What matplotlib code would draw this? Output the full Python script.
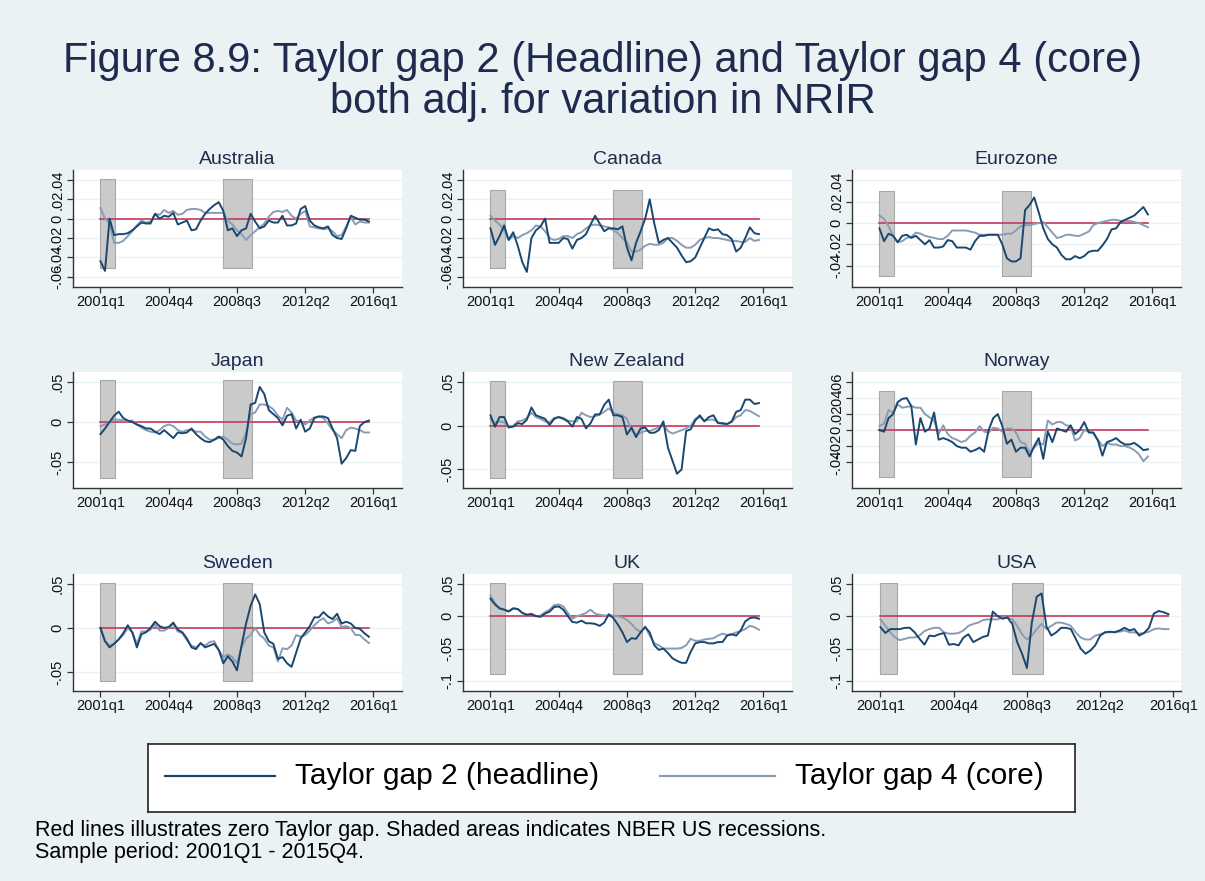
import numpy as np
import matplotlib
matplotlib.use("Agg")
import matplotlib.pyplot as plt

plt.rcParams['font.family'] = ['Liberation Sans', 'DejaVu Sans']

# quarterly index, 0 = 2001q1 ... 59 = 2015q4
quarters = np.arange(60)
xtick_pos = [0, 15, 30, 45, 60]
xtick_labels = ["2001q1", "2004q4", "2008q3", "2012q2", "2016q1"]

# NBER US recessions (in quarter units)
recessions = [(0, 3.3), (27, 33.3)]

aus_head = [-0.044, -0.054, 0.000, -0.017, -0.016, -0.016, -0.015, -0.012, -0.008, -0.004,
            -0.005, -0.005, 0.005, 0.000, 0.003, 0.002, 0.006, -0.006, -0.004, -0.002,
            -0.012, -0.011, -0.002, 0.005, 0.010, 0.014, 0.017, 0.008, -0.012, -0.010,
            -0.018, -0.012, -0.010, 0.005, -0.003, -0.010, -0.008, -0.002, -0.004, -0.004,
            0.003, -0.007, -0.007, -0.005, 0.010, 0.013, -0.002, -0.007, -0.009, -0.010,
            -0.008, -0.017, -0.020, -0.021, -0.010, 0.003, 0.001, -0.001, -0.001, -0.003]
aus_core = [0.011, 0.000, -0.005, -0.025, -0.025, -0.023, -0.018, -0.013, -0.007, -0.002,
            -0.004, -0.003, 0.005, 0.004, 0.009, 0.006, 0.008, 0.004, 0.005, 0.009,
            0.010, 0.010, 0.009, 0.006, 0.006, 0.006, 0.006, 0.006, -0.002, -0.006,
            -0.012, -0.016, -0.022, -0.017, -0.013, -0.009, -0.005, 0.002, 0.007, 0.008,
            0.007, 0.009, 0.003, 0.000, 0.005, 0.008, -0.008, -0.009, -0.010, -0.011,
            -0.010, -0.013, -0.018, -0.017, -0.008, 0.002, -0.006, -0.003, -0.004, -0.004]

can_head = [-0.010, -0.027, -0.018, -0.007, -0.022, -0.014, -0.028, -0.045, -0.055, -0.020,
            -0.012, -0.008, 0.000, -0.025, -0.025, -0.025, -0.020, -0.021, -0.031, -0.022,
            -0.020, -0.016, -0.006, 0.003, -0.005, -0.013, -0.010, -0.010, -0.011, -0.008,
            -0.030, -0.043, -0.025, -0.013, 0.000, 0.020, -0.005, -0.025, -0.022, -0.020,
            -0.025, -0.030, -0.038, -0.045, -0.044, -0.040, -0.030, -0.020, -0.010, -0.012,
            -0.011, -0.016, -0.017, -0.021, -0.034, -0.030, -0.020, -0.009, -0.015, -0.016]
can_core = [0.003, -0.002, -0.006, -0.012, -0.022, -0.018, -0.020, -0.017, -0.015, -0.012,
            -0.007, -0.008, -0.013, -0.020, -0.022, -0.021, -0.018, -0.018, -0.020, -0.016,
            -0.014, -0.010, -0.007, -0.006, -0.007, -0.008, -0.009, -0.012, -0.015, -0.020,
            -0.025, -0.034, -0.034, -0.032, -0.028, -0.026, -0.027, -0.027, -0.025, -0.020,
            -0.020, -0.023, -0.027, -0.030, -0.030, -0.027, -0.022, -0.020, -0.019, -0.020,
            -0.020, -0.021, -0.022, -0.023, -0.023, -0.024, -0.024, -0.020, -0.023, -0.022]

eur_head = [-0.005, -0.017, -0.010, -0.012, -0.018, -0.012, -0.011, -0.014, -0.012, -0.016,
            -0.020, -0.016, -0.023, -0.023, -0.022, -0.016, -0.017, -0.023, -0.023, -0.023,
            -0.025, -0.017, -0.012, -0.012, -0.011, -0.011, -0.011, -0.020, -0.033, -0.036,
            -0.036, -0.033, 0.012, 0.017, 0.024, 0.010, -0.005, -0.015, -0.020, -0.023,
            -0.030, -0.034, -0.034, -0.031, -0.033, -0.031, -0.027, -0.026, -0.026, -0.021,
            -0.015, -0.006, -0.005, 0.001, 0.003, 0.005, 0.007, 0.011, 0.015, 0.008]
eur_core = [0.007, 0.004, -0.003, -0.012, -0.018, -0.017, -0.014, -0.013, -0.009, -0.010,
            -0.012, -0.013, -0.014, -0.015, -0.015, -0.012, -0.007, -0.007, -0.007, -0.007,
            -0.008, -0.009, -0.011, -0.011, -0.011, -0.011, -0.011, -0.011, -0.010, -0.010,
            -0.007, -0.003, -0.002, -0.002, -0.001, 0.000, 0.001, -0.004, -0.009, -0.014,
            -0.013, -0.011, -0.011, -0.012, -0.012, -0.010, -0.008, -0.002, 0.000, 0.001,
            0.002, 0.003, 0.003, 0.002, 0.002, 0.002, 0.001, 0.000, -0.002, -0.004]

jpn_head = [-0.015, -0.008, 0.000, 0.008, 0.013, 0.005, 0.002, 0.000, -0.003, -0.005,
            -0.008, -0.008, -0.012, -0.015, -0.010, -0.015, -0.020, -0.013, -0.014, -0.013,
            -0.008, -0.015, -0.020, -0.024, -0.025, -0.022, -0.018, -0.022, -0.030, -0.036,
            -0.038, -0.043, -0.020, 0.022, 0.024, 0.044, 0.035, 0.015, 0.010, 0.005,
            -0.004, 0.008, 0.010, -0.008, 0.003, -0.012, -0.008, 0.005, 0.007, 0.007,
            0.005, -0.008, -0.020, -0.052, -0.045, -0.035, -0.036, -0.005, 0.000, 0.002]
jpn_core = [-0.005, -0.003, 0.000, 0.003, 0.003, 0.002, 0.001, 0.002, -0.003, -0.007,
            -0.010, -0.012, -0.013, -0.010, -0.005, -0.003, -0.005, -0.010, -0.012, -0.010,
            -0.010, -0.012, -0.012, -0.018, -0.022, -0.022, -0.020, -0.018, -0.022, -0.027,
            -0.028, -0.027, -0.013, 0.010, 0.012, 0.022, 0.022, 0.020, 0.016, 0.008,
            0.003, 0.018, 0.012, 0.002, 0.001, -0.003, 0.002, 0.006, 0.007, 0.005,
            -0.002, -0.010, -0.015, -0.020, -0.010, -0.007, -0.008, -0.010, -0.013, -0.013]

nzl_head = [0.012, -0.001, 0.010, 0.010, -0.002, -0.001, 0.003, 0.002, 0.007, 0.021,
            0.012, 0.010, 0.008, 0.001, 0.008, 0.010, 0.008, 0.005, -0.001, 0.010,
            0.008, -0.003, 0.003, 0.013, 0.013, 0.024, 0.030, 0.012, 0.012, 0.010,
            -0.010, -0.002, -0.013, -0.003, -0.002, -0.008, -0.008, -0.005, 0.005, -0.025,
            -0.040, -0.055, -0.050, -0.006, -0.004, 0.006, 0.012, 0.005, 0.010, 0.012,
            0.003, 0.003, 0.002, 0.005, 0.016, 0.018, 0.030, 0.030, 0.025, 0.026]
nzl_core = [0.008, 0.003, 0.005, 0.004, -0.001, 0.000, 0.005, 0.006, 0.009, 0.015,
            0.010, 0.008, 0.005, 0.004, 0.009, 0.010, 0.009, 0.006, 0.005, 0.005,
            0.015, 0.012, 0.010, 0.011, 0.013, 0.016, 0.020, 0.015, 0.013, 0.012,
            0.008, -0.005, -0.010, -0.008, -0.006, -0.006, -0.004, -0.002, 0.002, -0.006,
            -0.009, -0.007, -0.005, -0.003, 0.000, 0.008, 0.010, 0.006, 0.007, 0.007,
            0.004, 0.002, 0.002, 0.004, 0.010, 0.012, 0.018, 0.017, 0.014, 0.011]

nor_head = [0.000, -0.002, 0.015, 0.020, 0.035, 0.039, 0.040, 0.030, -0.018, 0.015,
            -0.002, 0.002, 0.022, -0.012, -0.010, -0.012, -0.015, -0.020, -0.022, -0.022,
            -0.027, -0.025, -0.022, -0.027, 0.000, 0.015, 0.020, 0.005, -0.017, -0.012,
            -0.027, -0.022, -0.022, -0.033, -0.020, -0.010, -0.036, -0.002, -0.015, 0.002,
            0.000, -0.002, 0.006, -0.005, 0.000, 0.010, -0.003, -0.003, -0.013, -0.032,
            -0.015, -0.013, -0.010, -0.015, -0.018, -0.018, -0.016, -0.020, -0.025, -0.024]
nor_core = [0.005, 0.008, 0.025, 0.022, 0.032, 0.028, 0.029, 0.030, 0.028, 0.028,
            0.020, 0.016, 0.012, -0.005, 0.006, -0.005, -0.010, -0.012, -0.015, -0.013,
            -0.007, -0.003, 0.005, -0.002, -0.003, 0.003, 0.002, -0.002, 0.002, 0.002,
            -0.003, -0.015, -0.017, -0.028, -0.022, -0.016, -0.018, 0.012, 0.007, 0.010,
            0.010, 0.006, 0.005, -0.013, -0.010, 0.000, -0.002, -0.004, -0.012, -0.020,
            -0.016, -0.018, -0.018, -0.020, -0.020, -0.022, -0.025, -0.030, -0.039, -0.033]

swe_head = [0.000, -0.015, -0.022, -0.018, -0.013, -0.006, 0.003, -0.005, -0.022, -0.007,
            -0.005, 0.000, 0.007, 0.002, 0.000, 0.001, 0.006, -0.002, -0.005, -0.012,
            -0.022, -0.024, -0.017, -0.022, -0.020, -0.018, -0.025, -0.040, -0.032, -0.038,
            -0.048, -0.020, 0.005, 0.025, 0.038, 0.027, -0.005, -0.015, -0.018, -0.035,
            -0.033, -0.040, -0.044, -0.028, -0.012, -0.005, 0.002, 0.012, 0.012, 0.018,
            0.013, 0.010, 0.016, 0.005, 0.007, 0.005, 0.000, -0.001, -0.006, -0.010]
swe_core = [0.000, -0.015, -0.020, -0.018, -0.013, -0.008, 0.000, -0.005, -0.018, -0.004,
            -0.004, -0.002, 0.004, -0.003, -0.003, 0.000, 0.004, -0.004, -0.006, -0.014,
            -0.020, -0.022, -0.018, -0.020, -0.016, -0.015, -0.025, -0.033, -0.030, -0.033,
            -0.040, -0.022, -0.012, -0.008, 0.000, -0.008, -0.012, -0.020, -0.022, -0.038,
            -0.023, -0.024, -0.020, -0.008, -0.010, -0.008, -0.003, 0.003, 0.008, 0.011,
            0.005, 0.007, 0.011, 0.001, 0.002, 0.000, -0.008, -0.008, -0.013, -0.017]

gbr_head = [0.027, 0.018, 0.012, 0.010, 0.007, 0.012, 0.011, 0.005, 0.002, 0.003,
            0.000, -0.001, 0.004, 0.007, 0.014, 0.015, 0.010, 0.000, -0.009, -0.010,
            -0.007, -0.011, -0.011, -0.012, -0.015, -0.010, 0.003, -0.003, -0.013, -0.025,
            -0.040, -0.034, -0.035, -0.025, -0.017, -0.025, -0.045, -0.052, -0.050, -0.057,
            -0.065, -0.069, -0.072, -0.072, -0.055, -0.042, -0.040, -0.040, -0.042, -0.042,
            -0.040, -0.040, -0.030, -0.028, -0.030, -0.022, -0.008, -0.003, -0.002, -0.004]
gbr_core = [0.032, 0.020, 0.012, 0.010, 0.008, 0.012, 0.011, 0.005, 0.002, 0.004,
            0.000, 0.001, 0.006, 0.010, 0.017, 0.018, 0.015, 0.005, -0.004, 0.000,
            0.002, 0.005, 0.010, 0.004, 0.002, 0.001, 0.001, 0.001, 0.000, -0.002,
            -0.006, -0.012, -0.020, -0.024, -0.016, -0.030, -0.042, -0.045, -0.050, -0.050,
            -0.050, -0.050, -0.049, -0.045, -0.035, -0.038, -0.038, -0.036, -0.035, -0.034,
            -0.030, -0.027, -0.029, -0.028, -0.025, -0.023, -0.020, -0.015, -0.017, -0.021]

usa_head = [-0.017, -0.026, -0.020, -0.020, -0.020, -0.018, -0.018, -0.025, -0.035, -0.044,
            -0.030, -0.031, -0.028, -0.026, -0.044, -0.043, -0.045, -0.033, -0.028, -0.040,
            -0.036, -0.032, -0.030, 0.007, 0.000, -0.004, -0.002, -0.012, -0.040, -0.058,
            -0.080, -0.010, 0.030, 0.035, -0.016, -0.030, -0.025, -0.018, -0.018, -0.020,
            -0.035, -0.050, -0.058, -0.053, -0.045, -0.030, -0.025, -0.024, -0.025, -0.022,
            -0.018, -0.022, -0.020, -0.030, -0.026, -0.018, 0.004, 0.008, 0.006, 0.003]
usa_core = [-0.005, -0.015, -0.025, -0.033, -0.037, -0.035, -0.033, -0.033, -0.030, -0.023,
            -0.020, -0.018, -0.018, -0.025, -0.027, -0.027, -0.026, -0.022, -0.015, -0.012,
            -0.010, -0.006, -0.005, -0.005, -0.005, -0.002, -0.002, -0.005, -0.015, -0.028,
            -0.036, -0.030, -0.020, -0.012, -0.020, -0.015, -0.010, -0.010, -0.012, -0.015,
            -0.025, -0.033, -0.036, -0.036, -0.030, -0.028, -0.025, -0.025, -0.024, -0.024,
            -0.022, -0.025, -0.025, -0.027, -0.026, -0.024, -0.020, -0.019, -0.020, -0.020]

countries = ["Australia", "Canada", "Eurozone", "Japan", "New Zealand", "Norway",
             "Sweden", "UK", "USA"]
headline = [aus_head, can_head, eur_head, jpn_head, nzl_head, nor_head, swe_head, gbr_head, usa_head]
core = [aus_core, can_core, eur_core, jpn_core, nzl_core, nor_core, swe_core, gbr_core, usa_core]

ticks_a = [-.06, -.04, -.02, 0, .02, .04]
labels_a = ["-.06", "-.04", "-.02", "0", ".02", ".04"]
ticks_e = [-.04, -.02, 0, .02, .04]
labels_e = ["-.04", "-.02", "0", ".02", ".04"]
ticks_j = [-.05, 0, .05]
labels_j = ["-.05", "0", ".05"]
ticks_n = [-.04, -.02, 0, .02, .04, .06]
labels_n = ["-.04", "-.02", "0", ".02", ".04", ".06"]
ticks_u = [-.1, -.05, 0, .05]
labels_u = ["-.1", "-.05", "0", ".05"]
yticks = [ticks_a, ticks_a, ticks_e, ticks_j, ticks_j, ticks_n, ticks_j, ticks_u, ticks_u]
ylabels = [labels_a, labels_a, labels_e, labels_j, labels_j, labels_n, labels_j, labels_u, labels_u]
ylims = [(-0.0703, 0.0503), (-0.0703, 0.0503), (-0.0597, 0.0497), (-0.082, 0.063),
         (-0.071, 0.062), (-0.072, 0.073), (-0.071, 0.061), (-0.115, 0.065), (-0.115, 0.065)]
shade_y = [(-0.0507, 0.0407), (-0.0507, 0.030), (-0.05, 0.030), (-0.07, 0.052),
           (-0.06, 0.0515), (-0.059, 0.049), (-0.06, 0.051), (-0.09, 0.0515), (-0.09, 0.0515)]
xlims = [(-6.1, 66.2)] * 8 + [(-5.9, 61.5)]

W, H = 1205, 881
BG = "#EAF2F3"
NAVY = "#1A476F"
CORE = "#8A9BB4"
RED = "#C33A5C"
TXT = "#1E2B4F"

fig = plt.figure(figsize=(W / 100, H / 100), dpi=100, facecolor=BG)

col_left = [72.7, 462.7, 851.7]
col_w = 329
row_top = [170, 371.7, 574]
row_h = [116.7, 116, 116.7]

for i, name in enumerate(countries):
    r, c = divmod(i, 3)
    left = col_left[c]
    top = row_top[r]
    ax = fig.add_axes([left / W, 1 - (top + row_h[r]) / H, col_w / W, row_h[r] / H])
    ax.set_facecolor("white")
    for s in ["top", "right"]:
        ax.spines[s].set_visible(False)
    for s in ["left", "bottom"]:
        ax.spines[s].set_color("#333333")
        ax.spines[s].set_linewidth(1.0)

    ax.set_xlim(*xlims[i])
    ax.set_ylim(*ylims[i])
    for yv in yticks[i]:
        ax.axhline(yv, color=BG, lw=1.0, zorder=0)

    lo, hi = shade_y[i]
    for x0, x1 in recessions:
        ax.fill_between([x0, x1], lo, hi, facecolor="#CACACA", edgecolor="#A8A8A8",
                        lw=0.8, zorder=1)

    ax.plot([0, 59], [0, 0], color=RED, lw=1.2, zorder=2)
    ax.plot(quarters, core[i], color=CORE, lw=1.4, zorder=3)
    ax.plot(quarters, headline[i], color=NAVY, lw=1.4, zorder=4)

    ax.set_xticks(xtick_pos)
    ax.set_xticklabels(xtick_labels, fontsize=10.5, color="#111111")
    ax.set_yticks(yticks[i])
    ax.set_yticklabels(ylabels[i], fontsize=10.5, color="#111111", rotation=90, va="center")
    ax.tick_params(length=4, width=0.9, color="#333333", pad=2)
    ax.set_title(name, fontsize=14, color=TXT, pad=4)

fig.text(0.5, 1 - 72 / H, "Figure 8.9: Taylor gap 2 (Headline) and Taylor gap 4 (core)",
         ha="center", va="baseline", fontsize=30, color=TXT)
fig.text(0.5, 1 - 113 / H, "both adj. for variation in NRIR",
         ha="center", va="baseline", fontsize=30, color=TXT)

# legend box
lax = fig.add_axes([148 / W, 1 - 812 / H, (1075 - 148) / W, (812 - 744) / H])
lax.set_xlim(148, 1075)
lax.set_ylim(812, 744)
lax.set_xticks([])
lax.set_yticks([])
lax.set_facecolor("white")
for s in lax.spines.values():
    s.set_color("#222222")
    s.set_linewidth(1.2)
lax.plot([165, 275], [776, 776], color=NAVY, lw=1.6)
lax.text(295, 776, "Taylor gap 2 (headline)", fontsize=21.5, va="center", ha="left", color="black")
lax.plot([660, 775], [776, 776], color=CORE, lw=1.6)
lax.text(795, 776, "Taylor gap 4 (core)", fontsize=21.5, va="center", ha="left", color="black")

fig.text(35 / W, 1 - 836 / H,
         "Red lines illustrates zero Taylor gap. Shaded areas indicates NBER US recessions.",
         fontsize=15.5, va="baseline", ha="left", color="black")
fig.text(35 / W, 1 - 858 / H, "Sample period: 2001Q1 - 2015Q4.",
         fontsize=15.5, va="baseline", ha="left", color="black")

fig.savefig("out.png", dpi=100, facecolor=BG)
